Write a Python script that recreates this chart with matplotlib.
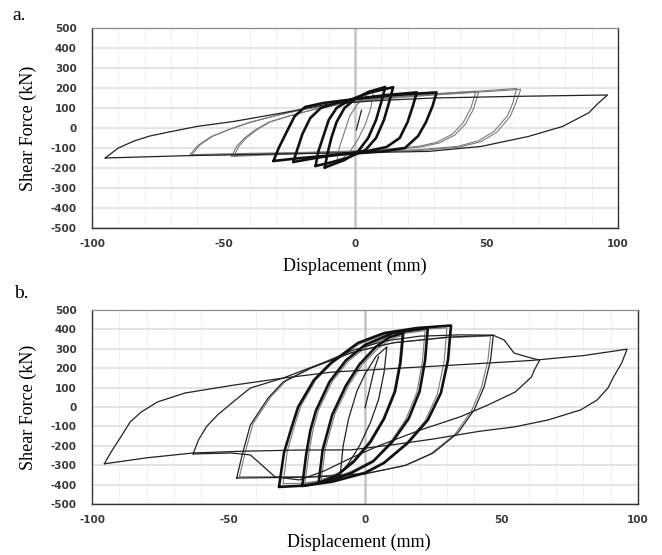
import matplotlib.pyplot as plt

plt.rcParams['axes.unicode_minus'] = False

# axis ticks (same for both panels)
x_ticks = [-100, -50, 0, 50, 100]
y_ticks = [-500, -400, -300, -200, -100, 0, 100, 200, 300, 400, 500]

# ---- panel a : (displacement mm, shear kN) points ----
a_cycle_96 = [(-95, -150), (-90, -100), (-84, -65), (-78, -40), (-70, -18), (-60, 8),
              (-46, 33), (-27, 77), (-10, 120), (10, 138), (30, 150), (60, 158), (96, 165),
              (92, 118), (89, 77), (79, 8), (66, -42), (48, -92), (28, -117), (3, -123),
              (-30, -130), (-63, -138), (-95, -150)]
a_cycle_63 = [(-63, -138), (-60, -90), (-55, -45), (-48, -8), (-40, 28), (-30, 62), (-20, 92),
              (-8, 118), (10, 145), (30, 165), (50, 182), (63, 193), (61, 120), (59, 58),
              (54, -20), (48, -68), (40, -95), (25, -112), (5, -120), (-20, -126), (-45, -132),
              (-63, -138)]
a_cycle_63b = [(-62, -133), (-59, -85), (-54, -40), (-47, -3), (-39, 32), (-29, 66), (-19, 95),
               (-7, 122), (10, 150), (30, 170), (50, 187), (61.5, 198), (60, 125), (58, 62),
               (53, -15), (47, -64), (39, -92), (25, -108), (5, -116), (-20, -122), (-45, -128),
               (-62, -133)]
a_cycle_47 = [(-47, -142), (-45, -92), (-42, -50), (-38, -10), (-33, 28), (-25, 60), (-15, 95),
              (-5, 120), (10, 148), (30, 168), (47, 180), (45, 93), (42, 20), (38, -35),
              (32, -75), (25, -95), (12, -110), (0, -118), (-20, -128), (-47, -142)]
a_cycle_47b = [(-46, -138), (-44, -88), (-41, -46), (-37, -6), (-32, 32), (-24, 64), (-14, 98),
               (-4, 124), (10, 152), (30, 171), (46, 184), (44, 97), (41, 24), (37, -31),
               (31, -72), (24, -92), (12, -106), (0, -114), (-20, -124), (-46, -138)]
a_cycle_31 = [(-31, -165), (-29, -100), (-26, -20), (-23, 58), (-19, 105), (-12, 125), (0, 145),
              (15, 165), (31, 178), (29.5, 110), (27, 30), (24, -40), (19, -100), (10, -118),
              (0, -127), (-12, -140), (-22, -152), (-31, -165)]
a_cycle_23 = [(-23.5, -170), (-22, -110), (-20, -30), (-17, 50), (-13, 100), (-7, 125), (0, 145),
              (12, 165), (23.5, 178), (22, 110), (20, 30), (17, -50), (12, -95), (5, -115),
              (-5, -130), (-15, -150), (-23.5, -170)]
a_cycle_15 = [(-15, -190), (-14, -120), (-12, -40), (-10, 40), (-7, 100), (-2, 140), (5, 175),
              (14.5, 204), (13, 130), (11, 40), (8, -50), (4, -110), (-3, -150), (-10, -175),
              (-15, -190)]
a_cycle_11 = [(-11.5, -198), (-10.5, -130), (-9, -50), (-7, 30), (-4, 100), (0, 145), (5, 180),
              (11.5, 205), (10, 130), (8, 40), (5, -50), (1, -120), (-4, -160), (-8, -180),
              (-11.5, -198)]
a_cycle_7 = [(-7, -175), (-6, -100), (-4, -20), (-2, 60), (1, 120), (4, 160), (7, 185), (6, 100),
             (4, 20), (1, -60), (-2, -120), (-5, -155), (-7, -175)]
a_initial = [(0.5, -10), (1.5, 40), (2.5, 90)]

# ---- panel b ----
b_cycle_96 = [(-95.5, -293), (-93, -232), (-89, -144), (-86, -77), (-82, -26), (-76, 26),
              (-66, 72), (-48, 113), (-30, 149), (-12, 180), (10, 198), (30, 214), (61, 240),
              (80, 265), (96, 298), (94, 226), (91, 154), (89, 98), (85, 36), (79, -15),
              (67, -67), (54.6, -103), (42, -125), (25, -165), (10, -195), (-5, -221),
              (-25, -222), (-45, -228), (-63, -237), (-80, -262), (-95.5, -293)]
b_cycle_63 = [(-63, -242), (-61, -170), (-58, -100), (-54, -41), (-48, 30), (-42, 98), (-30, 149),
              (-15, 230), (-5, 290), (7, 340), (20, 365), (35, 372), (47, 370), (51, 345),
              (54.6, 278), (61, 252), (64, 242), (62, 190), (61, 155), (55, 77), (45, 10),
              (35, -50), (20, -120), (5, -200), (-5, -262), (-15, -330), (-24, -376),
              (-33, -360), (-37, -309), (-42, -247), (-49, -237), (-63, -242)]
b_cycle_47 = [(-47, -366), (-45, -247), (-42, -93), (-35.5, 46), (-30, 129), (-20, 200),
              (-5, 280), (10, 330), (30, 360), (47, 370), (46, 242), (43.6, 103), (40, -15),
              (34, -134), (25, -237), (15, -300), (0, -345), (-20, -362), (-47, -366)]
b_cycle_47b = [(-46, -360), (-44, -240), (-41, -85), (-34.5, 52), (-29, 134), (-19, 205),
               (-4, 284), (11, 333), (30, 357), (46, 366), (45, 238), (42.6, 98), (39, -20),
               (33, -140), (24, -242), (14, -305), (0, -342), (-20, -358), (-46, -360)]
b_cycle_31 = [(-31.5, -412), (-29.7, -237), (-27, -110), (-24.5, 0), (-18.7, 139), (-12.5, 227),
              (-2.6, 330), (7, 381), (19, 407), (31.5, 420), (30.4, 242), (27.8, 72), (23, -67),
              (15.7, -185), (7, -288), (0, -340), (-12, -385), (-22, -405), (-31.5, -412)]
b_cycle_31b = [(-30, -395), (-28.5, -230), (-26, -105), (-23.5, 5), (-18, 140), (-12, 225),
               (-2, 325), (7, 372), (19, 398), (30, 408), (29, 235), (26.5, 65), (22, -72),
               (15, -188), (6.5, -288), (0, -335), (-12, -375), (-21, -392), (-30, -395)]
b_cycle_24 = [(-23, -407), (-21.5, -240), (-20, -120), (-18, -20), (-13, 130), (-7, 240),
              (0, 320), (10, 380), (23, 407), (22, 240), (20, 80), (16, -60), (10, -180),
              (3, -280), (-5, -340), (-14, -385), (-23, -407)]
b_cycle_24b = [(-22, -392), (-20.5, -232), (-19, -115), (-17, -15), (-12, 132), (-6, 238),
               (1, 315), (10, 370), (22, 394), (21, 232), (19, 75), (15, -62), (9.5, -178),
               (3, -275), (-5, -332), (-13, -372), (-22, -392)]
b_cycle_15 = [(-17, -392), (-15.5, -220), (-12, -40), (-7, 110), (-2, 220), (4, 310), (9, 360),
              (14, 381), (13, 230), (11, 80), (7, -60), (2, -180), (-4, -280), (-10, -350),
              (-17, -392)]
b_cycle_15b = [(-16, -375), (-14.5, -212), (-11, -35), (-6, 112), (-1, 218), (5, 305), (9.5, 350),
               (13.5, 368), (12.5, 222), (10.5, 75), (6.5, -62), (1.5, -178), (-4, -272),
               (-9.5, -338), (-16, -375)]
b_cycle_8 = [(-9, -340), (-8, -200), (-6, -60), (-3, 80), (0, 170), (4, 260), (8, 310), (7, 180),
             (5, 40), (2, -80), (-2, -200), (-6, -290), (-9, -340)]
b_initial = [(0, -5), (1.5, 80), (3.5, 200), (5, 260)]

BOLD = dict(color='#111111', lw=1.9)
DARK = dict(color='#222222', lw=0.9)
GRAY = dict(color='#7a7a7a', lw=0.8)


def draw(ax, pts, style):
    xs, ys = zip(*pts)
    ax.plot(xs, ys, solid_joinstyle='round', solid_capstyle='round', **style)


def frame(ax):
    ax.set_xlim(-100, 100)
    ax.set_ylim(-500, 500)
    ax.set_xticks(x_ticks)
    ax.set_yticks(y_ticks)
    ax.set_xticks(range(-100, 101, 10), minor=True)
    ax.grid(which='major', axis='y', color='#dcdcdc', lw=1.1)
    ax.grid(which='minor', axis='x', color='#e6e6e6', lw=0.8, ls=(0, (1, 1)))
    ax.set_axisbelow(True)
    ax.axvline(0, color='#c4c4c4', lw=1.8, zorder=1)
    ax.tick_params(which='both', length=0)
    ax.tick_params(axis='y', pad=11, labelsize=7.5, labelcolor='#3a3a3a')
    ax.tick_params(axis='x', pad=8, labelsize=7.5, labelcolor='#3a3a3a')
    for lab in ax.get_xticklabels() + ax.get_yticklabels():
        lab.set_fontweight('bold')
    for s in ['left', 'bottom', 'right']:
        ax.spines[s].set_color('#333333')
        ax.spines[s].set_linewidth(1.0)
    ax.spines['top'].set_color('#8a8a8a')
    ax.spines['top'].set_linewidth(0.9)


fig = plt.figure(figsize=(6.62, 5.55), dpi=100)
ax_a = fig.add_axes([92 / 662, 1 - 228 / 555, 526 / 662, 200 / 555])
ax_b = fig.add_axes([92 / 662, 1 - 504 / 555, 546 / 662, 194 / 555])
frame(ax_a)
frame(ax_b)

for pts in [a_cycle_63, a_cycle_63b, a_cycle_47, a_cycle_47b, a_cycle_7]:
    draw(ax_a, pts, GRAY)
draw(ax_a, a_cycle_96, DARK)
draw(ax_a, a_initial, DARK)
for pts in [a_cycle_31, a_cycle_23, a_cycle_15, a_cycle_11]:
    draw(ax_a, pts, BOLD)

for pts in [b_cycle_47b, b_cycle_31b, b_cycle_24b, b_cycle_15b]:
    draw(ax_b, pts, GRAY)
for pts in [b_cycle_96, b_cycle_63, b_cycle_47, b_cycle_8, b_initial]:
    draw(ax_b, pts, DARK)
for pts in [b_cycle_31, b_cycle_24, b_cycle_15]:
    draw(ax_b, pts, BOLD)

serif = 'Liberation Serif'
fig.text(12 / 662, 1 - 16 / 555, 'a.', family=serif, fontsize=14, va='center')
fig.text(14 / 662, 1 - 293 / 555, 'b.', family=serif, fontsize=14, va='center')
fig.text(28 / 662, 1 - 128 / 555, 'Shear Force (kN)', family=serif, fontsize=13,
         rotation=90, ha='center', va='center')
fig.text(28 / 662, 1 - 407 / 555, 'Shear Force (kN)', family=serif, fontsize=13,
         rotation=90, ha='center', va='center')
fig.text(355 / 662, 1 - 266 / 555, 'Displacement (mm)', family=serif, fontsize=13,
         ha='center', va='center')
fig.text(359 / 662, 1 - 542 / 555, 'Displacement (mm)', family=serif, fontsize=13,
         ha='center', va='center')

fig.savefig('out.png', dpi=100)
